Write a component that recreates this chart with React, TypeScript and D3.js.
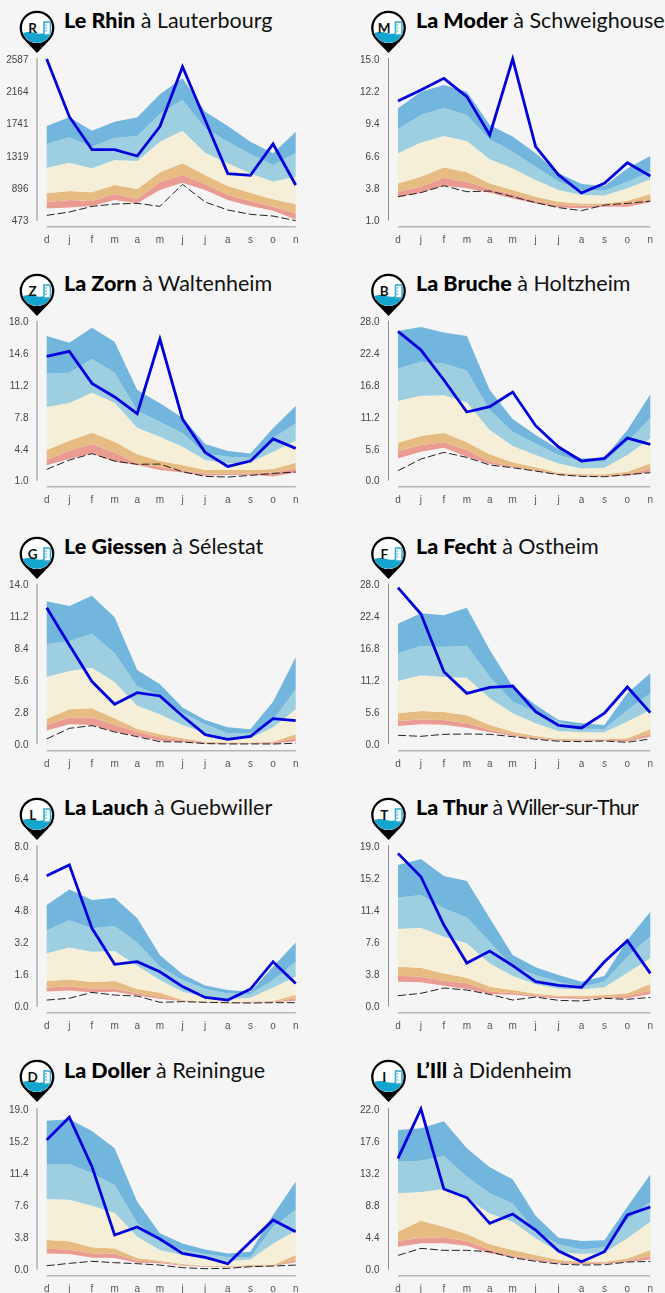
import React from "react";
import * as d3 from "d3";

const months = ["d", "j", "f", "m", "a", "m", "j", "j", "a", "s", "o", "n"];

// Le Rhin
const rhinTicks = ["473", "896", "1319", "1741", "2164", "2587"];
const rhinTop = [1711, 1825, 1650, 1768, 1825, 2125, 2335, 1899, 1711, 1506, 1354, 1637];
const rhinHigh = [1476, 1563, 1441, 1554, 1580, 1868, 2051, 1681, 1506, 1345, 1201, 1362];
const rhinMid = [1166, 1232, 1158, 1267, 1253, 1506, 1650, 1362, 1223, 1092, 987, 1049];
const rhinLow = [831, 861, 844, 940, 887, 1105, 1223, 1070, 926, 839, 752, 687];
const rhinDry = [717, 743, 730, 822, 756, 979, 1070, 953, 809, 730, 656, 569];
const rhinMin = [634, 647, 665, 743, 700, 874, 970, 874, 743, 665, 604, 490];
const rhinYear = [2587, 1833, 1402, 1402, 1319, 1703, 2487, 1790, 1088, 1066, 1476, 940];
const rhinRecord = [543, 586, 660, 691, 700, 660, 948, 717, 613, 556, 534, 473];

// La Moder
const moderTicks = ["1.0", "3.8", "6.6", "9.4", "12.2", "15.0"];
const moderTop = [10.73, 12.17, 12.75, 12.17, 9.29, 8.28, 6.83, 5.1, 4.18, 4.0, 5.53, 6.6];
const moderHigh = [8.91, 10.15, 10.73, 10.15, 8.04, 6.98, 5.68, 4.38, 3.66, 3.6, 4.38, 5.24];
const moderMid = [6.83, 7.76, 8.33, 7.9, 6.31, 5.53, 4.52, 3.66, 3.22, 3.19, 3.8, 4.58];
const moderLow = [4.23, 4.81, 5.62, 5.19, 4.23, 3.66, 3.08, 2.65, 2.5, 2.5, 2.73, 3.31];
const moderDry = [3.51, 3.94, 4.72, 4.38, 3.74, 3.28, 2.73, 2.36, 2.3, 2.36, 2.5, 2.79];
const moderMin = [3.02, 3.43, 4.03, 3.8, 3.43, 2.93, 2.5, 2.15, 2.07, 2.21, 2.21, 2.59];
const moderYear = [11.36, 12.32, 13.33, 11.74, 8.42, 15, 7.41, 4.96, 3.4, 4.23, 6.02, 4.87];
const moderRecord = [3.08, 3.43, 4.03, 3.51, 3.57, 3.08, 2.56, 2.13, 1.87, 2.36, 2.5, 2.7];

// La Zorn
const zornTicks = ["1.0", "4.4", "7.8", "11.2", "14.6", "18.0"];
const zornTop = [16.47, 15.75, 17.36, 15.86, 10.69, 9.27, 7.74, 4.92, 4.17, 3.92, 6.6, 8.98];
const zornHigh = [12.44, 12.55, 14.01, 12.55, 8.48, 7.31, 6.06, 3.92, 3.57, 3.46, 5.53, 7.13];
const zornMid = [8.88, 9.3, 10.41, 9.34, 6.67, 5.7, 4.64, 3.21, 2.85, 2.96, 4.1, 5.28];
const zornLow = [4.28, 5.28, 6.13, 5.17, 3.82, 3.1, 2.68, 2.14, 2.14, 2.14, 2.25, 2.92];
const zornDry = [3.21, 4.24, 4.92, 3.99, 2.85, 2.5, 2.07, 1.78, 1.78, 1.78, 1.89, 2.32];
const zornMin = [2.64, 3.32, 3.92, 3.03, 2.68, 2.14, 1.89, 1.53, 1.61, 1.61, 1.46, 1.89];
const zornYear = [14.29, 14.83, 11.41, 9.95, 8.16, 16.15, 7.59, 4.03, 2.53, 3.1, 5.46, 4.46];
const zornRecord = [2.21, 3.21, 3.89, 3.1, 2.75, 2.78, 1.96, 1.46, 1.39, 1.57, 1.78, 1.93];

// La Bruche
const brucheTicks = ["0.0", "5.6", "11.2", "16.8", "22.4", "28.0"];
const brucheTop = [26.36, 27.06, 26.12, 25.48, 15.97, 10.86, 8.04, 5.52, 3.93, 4.05, 8.92, 15.2];
const brucheHigh = [19.78, 20.96, 20.66, 19.37, 12.44, 8.63, 6.57, 4.52, 3.35, 3.35, 6.87, 10.98];
const brucheMid = [14.03, 14.97, 15.03, 13.79, 8.92, 6.1, 4.52, 3.05, 2.17, 2.29, 4.52, 7.45];
const brucheLow = [6.69, 7.87, 8.45, 6.75, 4.64, 3.23, 2.35, 1.41, 1.12, 1.12, 1.58, 3.05];
const brucheDry = [5.22, 6.28, 6.75, 5.4, 3.35, 2.58, 1.88, 1.23, 0.88, 0.88, 1.12, 2.17];
const brucheMin = [3.93, 5.11, 5.81, 4.23, 2.94, 2.35, 1.7, 1.0, 0.76, 0.7, 0.88, 1.47];
const brucheYear = [26.3, 23.01, 17.73, 12.09, 13.03, 15.61, 9.69, 5.93, 3.46, 3.93, 7.51, 6.4];
const brucheRecord = [1.76, 3.82, 4.99, 4.11, 2.76, 2.29, 1.7, 1.06, 0.76, 0.7, 1.06, 1.41];

// Le Giessen
const giessenTicks = ["0.0", "2.8", "5.6", "8.4", "11.2", "14.0"];
const giessenTop = [12.54, 12.13, 13.04, 11.14, 6.52, 5.26, 3.22, 2.13, 1.49, 1.32, 3.74, 7.63];
const giessenHigh = [8.77, 9.06, 9.7, 7.98, 5.06, 4.27, 2.72, 1.75, 0.96, 0.96, 2.13, 4.82];
const giessenMid = [5.9, 6.43, 6.72, 5.47, 3.39, 2.63, 1.7, 1.02, 0.53, 0.53, 1.49, 3.07];
const giessenLow = [2.25, 3.07, 3.16, 2.28, 1.34, 0.88, 0.53, 0.23, 0.15, 0.15, 0.23, 0.88];
const giessenDry = [1.7, 2.34, 2.34, 1.7, 1.11, 0.61, 0.38, 0.15, 0.09, 0.09, 0.18, 0.53];
const giessenMin = [1.2, 1.75, 1.7, 1.11, 0.73, 0.32, 0.23, 0.06, 0.03, 0.03, 0.06, 0.26];
const giessenYear = [11.98, 8.71, 5.5, 3.51, 4.53, 4.24, 2.48, 0.85, 0.44, 0.7, 2.25, 2.08];
const giessenRecord = [0.47, 1.4, 1.64, 1.08, 0.67, 0.23, 0.2, 0.06, 0.03, 0.03, 0.03, 0.09];

// La Fecht
const fechtTicks = ["0.0", "5.6", "11.2", "16.8", "22.4", "28.0"];
const fechtTop = [21.16, 22.97, 22.62, 23.97, 16.54, 10.11, 6.9, 4.27, 3.68, 3.39, 8.94, 12.45];
const fechtHigh = [15.96, 17.25, 17.07, 17.3, 11.87, 7.48, 5.73, 3.98, 2.75, 2.69, 6.02, 8.94];
const fechtMid = [11.11, 12.1, 11.81, 11.69, 8.07, 5.44, 3.68, 2.34, 2.1, 2.1, 3.98, 6.02];
const fechtLow = [5.44, 5.85, 5.67, 5.09, 3.39, 2.22, 1.46, 0.94, 0.88, 0.88, 1.05, 2.63];
const fechtDry = [4.09, 4.33, 4.27, 3.68, 2.51, 1.7, 1.17, 0.76, 0.7, 0.76, 0.76, 1.81];
const fechtMin = [3.22, 3.51, 3.45, 2.92, 2.1, 1.46, 0.99, 0.64, 0.58, 0.64, 0.47, 1.34];
const fechtYear = [27.48, 22.86, 12.74, 8.94, 10.0, 10.23, 5.73, 3.33, 2.86, 5.44, 10.06, 5.55];
const fechtRecord = [1.58, 1.4, 1.75, 1.81, 1.75, 1.34, 0.88, 0.53, 0.47, 0.58, 0.35, 0.94];

// La Lauch
const lauchTicks = ["0.0", "1.6", "3.2", "4.8", "6.4", "8.0"];
const lauchTop = [5.06, 5.84, 5.31, 5.43, 4.4, 2.57, 1.61, 1.05, 0.83, 0.75, 1.99, 3.19];
const lauchHigh = [3.8, 4.3, 3.9, 4.02, 3.19, 1.99, 1.33, 0.88, 0.66, 0.63, 1.33, 2.24];
const lauchMid = [2.66, 2.95, 2.74, 2.77, 2.04, 1.33, 0.75, 0.5, 0.38, 0.45, 0.95, 1.49];
const lauchLow = [1.28, 1.36, 1.23, 1.28, 0.88, 0.7, 0.33, 0.25, 0.22, 0.25, 0.28, 0.6];
const lauchDry = [0.95, 1.0, 0.9, 0.91, 0.66, 0.5, 0.3, 0.22, 0.2, 0.22, 0.25, 0.42];
const lauchMin = [0.76, 0.81, 0.71, 0.75, 0.56, 0.4, 0.27, 0.2, 0.17, 0.18, 0.22, 0.3];
const lauchYear = [6.52, 7.06, 3.9, 2.11, 2.24, 1.74, 1.0, 0.46, 0.33, 0.88, 2.24, 1.16];
const lauchRecord = [0.33, 0.42, 0.71, 0.58, 0.53, 0.22, 0.25, 0.22, 0.2, 0.18, 0.2, 0.2];

// La Thur
const thurTicks = ["0.0", "3.8", "7.6", "11.4", "15.2", "19.0"];
const thurTop = [16.75, 17.46, 15.45, 14.86, 10.45, 6.11, 4.65, 3.74, 2.96, 3.63, 7.88, 11.23];
const thurHigh = [12.89, 13.21, 11.63, 10.56, 7.69, 4.73, 3.74, 2.96, 2.37, 2.96, 5.91, 8.28];
const thurMid = [9.18, 9.34, 8.28, 7.49, 5.12, 3.63, 2.64, 2.13, 2.05, 2.29, 4.02, 5.72];
const thurLow = [4.73, 4.61, 3.94, 3.43, 2.37, 1.97, 1.54, 1.3, 1.26, 1.38, 1.58, 2.68];
const thurDry = [3.67, 3.55, 3.04, 2.76, 1.81, 1.58, 1.34, 1.18, 1.1, 1.18, 1.26, 1.89];
const thurMin = [2.96, 2.88, 2.48, 2.09, 1.5, 1.42, 1.18, 0.99, 0.91, 1.02, 0.99, 1.5];
const thurYear = [18.13, 15.37, 9.66, 5.16, 6.58, 4.85, 2.96, 2.52, 2.29, 5.32, 7.81, 3.94];
const thurRecord = [1.3, 1.58, 2.21, 1.97, 1.46, 0.79, 1.14, 0.75, 0.67, 0.99, 0.87, 1.1];

// La Doller
const dollerTicks = ["0.0", "3.8", "7.6", "11.4", "15.2", "19.0"];
const dollerTop = [17.62, 17.78, 16.4, 14.35, 8.04, 4.3, 3.11, 2.4, 1.93, 2.13, 6.46, 10.41];
const dollerHigh = [12.5, 12.5, 11.39, 10.01, 5.48, 3.31, 2.33, 1.85, 1.46, 1.46, 5.09, 7.06];
const dollerMid = [8.36, 8.28, 7.57, 6.74, 3.9, 2.33, 1.73, 1.26, 1.02, 1.22, 3.11, 4.57];
const dollerLow = [3.51, 3.35, 2.64, 2.52, 1.38, 1.06, 0.67, 0.47, 0.43, 0.55, 0.55, 1.73];
const dollerDry = [2.48, 2.4, 1.93, 1.89, 1.06, 0.91, 0.55, 0.43, 0.35, 0.43, 0.47, 1.14];
const dollerMin = [1.93, 1.85, 1.42, 1.38, 0.83, 0.75, 0.47, 0.35, 0.28, 0.35, 0.43, 0.87];
const dollerYear = [15.33, 18.02, 12.18, 4.1, 5.05, 3.63, 1.93, 1.46, 0.71, 3.31, 5.87, 4.49];
const dollerRecord = [0.47, 0.75, 0.99, 0.83, 0.71, 0.55, 0.24, 0.12, 0.16, 0.35, 0.43, 0.55];

// L'Ill
const illTicks = ["0.0", "4.4", "8.8", "13.2", "17.6", "22.0"];
const illTop = [19.12, 19.35, 20.31, 16.61, 14.01, 12.37, 7.39, 4.38, 3.93, 4.02, 8.63, 13.05];
const illHigh = [14.79, 14.92, 15.61, 12.73, 10.45, 9.08, 5.2, 3.47, 2.78, 3.06, 6.8, 9.31];
const illMid = [10.45, 10.63, 11.04, 9.77, 7.71, 6.57, 4.29, 2.46, 2.15, 2.33, 4.29, 6.57];
const illLow = [5.2, 6.71, 5.89, 4.88, 3.47, 2.69, 2.01, 1.32, 1.1, 1.1, 1.55, 2.69];
const illDry = [3.93, 4.38, 4.43, 3.93, 2.69, 1.92, 1.46, 1.05, 0.87, 0.96, 1.23, 1.87];
const illMin = [3.15, 3.61, 3.61, 3.29, 2.24, 1.69, 1.23, 0.87, 0.73, 0.82, 1.05, 1.41];
const illYear = [15.24, 22, 11.04, 9.86, 6.34, 7.62, 5.43, 2.56, 1.1, 2.46, 7.49, 8.58];
const illRecord = [1.96, 2.92, 2.65, 2.65, 2.46, 1.64, 1.14, 0.78, 0.64, 0.68, 1.05, 1.14];

const stations = [
  { letter: "R", bold: "Le Rhin", place: "à Lauterbourg", ticks: rhinTicks, top: rhinTop, high: rhinHigh, mid: rhinMid, low: rhinLow, dry: rhinDry, min: rhinMin, year: rhinYear, record: rhinRecord },
  { letter: "M", bold: "La Moder", place: "à Schweighouse", ticks: moderTicks, top: moderTop, high: moderHigh, mid: moderMid, low: moderLow, dry: moderDry, min: moderMin, year: moderYear, record: moderRecord },
  { letter: "Z", bold: "La Zorn", place: "à Waltenheim", ticks: zornTicks, top: zornTop, high: zornHigh, mid: zornMid, low: zornLow, dry: zornDry, min: zornMin, year: zornYear, record: zornRecord },
  { letter: "B", bold: "La Bruche", place: "à Holtzheim", ticks: brucheTicks, top: brucheTop, high: brucheHigh, mid: brucheMid, low: brucheLow, dry: brucheDry, min: brucheMin, year: brucheYear, record: brucheRecord },
  { letter: "G", bold: "Le Giessen", place: "à Sélestat", ticks: giessenTicks, top: giessenTop, high: giessenHigh, mid: giessenMid, low: giessenLow, dry: giessenDry, min: giessenMin, year: giessenYear, record: giessenRecord },
  { letter: "F", bold: "La Fecht", place: "à Ostheim", ticks: fechtTicks, top: fechtTop, high: fechtHigh, mid: fechtMid, low: fechtLow, dry: fechtDry, min: fechtMin, year: fechtYear, record: fechtRecord },
  { letter: "L", bold: "La Lauch", place: "à Guebwiller", ticks: lauchTicks, top: lauchTop, high: lauchHigh, mid: lauchMid, low: lauchLow, dry: lauchDry, min: lauchMin, year: lauchYear, record: lauchRecord },
  { letter: "T", bold: "La Thur", place: "à Willer-sur-Thur", ticks: thurTicks, top: thurTop, high: thurHigh, mid: thurMid, low: thurLow, dry: thurDry, min: thurMin, year: thurYear, record: thurRecord },
  { letter: "D", bold: "La Doller", place: "à Reiningue", ticks: dollerTicks, top: dollerTop, high: dollerHigh, mid: dollerMid, low: dollerLow, dry: dollerDry, min: dollerMin, year: dollerYear, record: dollerRecord },
  { letter: "I", bold: "L’Ill", place: "à Didenheim", ticks: illTicks, top: illTop, high: illHigh, mid: illMid, low: illLow, dry: illDry, min: illMin, year: illYear, record: illRecord },
];

const rows = [
  { plotTop: 59, plotBottom: 220.7, base: 226.7, xLabel: 242.5, title: 27.5, pin: 28 },
  { plotTop: 321.7, plotBottom: 480.7, base: 486.7, xLabel: 503, title: 291, pin: 291 },
  { plotTop: 584.7, plotBottom: 744.3, base: 750.7, xLabel: 767, title: 554, pin: 554 },
  { plotTop: 846, plotBottom: 1006.7, base: 1012.7, xLabel: 1029, title: 815, pin: 815 },
  { plotTop: 1109, plotBottom: 1269.7, base: 1275.7, xLabel: 1292, title: 1078, pin: 1077 },
];
const cols = [
  { x0: 46.7, x1: 295.7, axisX: 37, labelRight: 28.5, titleX: 64, pinX: 37, axisW: 1.6, axisC: "#b5b5b5" },
  { x0: 398, x1: 650.3, axisX: 388.5, labelRight: 379.5, titleX: 416, pinX: 388.5, axisW: 1, axisC: "#8f8f8f" },
];

const bandColors = ["#ea9c92", "#e6bc83", "#f6efd7", "#9dcfe0", "#72b6dd"];
const axisFont = "'Liberation Sans', Arial, sans-serif";
const titleFont = "Lato, sans-serif";

function Pin({ x, y, letter, id }: { x: number; y: number; letter: string; id: string }) {
  return (
    <g transform={`translate(${x},${y})`}>
      <path d="M-12,12.5 L0,25 L12,12.5 Z" fill="#000" />
      <circle r={16.2} fill="#fff" stroke="#000" strokeWidth={2.3} />
      <clipPath id={id}>
        <circle r={15} />
      </clipPath>
      <g clipPath={`url(#${id})`}>
        <path d="M-16,5.5 C-10,3.5 -6,3.5 -2,5 C2,6.5 6,6 16,3 L16,16 L-16,16 Z" fill="#14a5cf" />
        <rect x={7} y={-6} width={6.5} height={13} fill="#fff" stroke="#35aed3" strokeWidth={1.6} />
        <path d="M8,-3H10 M8,0H10 M8,3H10" stroke="#35aed3" strokeWidth={1} />
      </g>
      <text x={-4.3} y={4.6} textAnchor="middle" fontFamily={titleFont} fontWeight={700} fontSize={13.5} fill="#111">
        {letter}
      </text>
    </g>
  );
}

function Panel({ s, row, col, idx }: { s: (typeof stations)[number]; row: (typeof rows)[number]; col: (typeof cols)[number]; idx: number }) {
  const tickVals = s.ticks.map(Number);
  const x = d3.scalePoint<number>().domain(months.map((_, i) => i)).range([col.x0, col.x1]);
  const y = d3.scaleLinear().domain([tickVals[0], tickVals[tickVals.length - 1]]).range([row.plotBottom, row.plotTop]);
  const layers = [s.min, s.dry, s.low, s.mid, s.high, s.top];
  const line = d3.line<number>().x((_, i) => x(i)!).y((d) => y(d));
  const area = (lo: number[], hi: number[]) =>
    d3.area<number>().x((_, i) => x(i)!).y0((_, i) => y(lo[i])).y1((d) => y(d))(hi)!;
  const tight = s.bold === "La Thur";
  return (
    <g>
      <g filter="url(#soft)">
        <line x1={col.axisX} x2={col.axisX} y1={row.plotTop - 1} y2={row.plotBottom} stroke={col.axisC} strokeWidth={col.axisW} />
        <line x1={col.x0} x2={col.x1} y1={row.base} y2={row.base} stroke="#b5b5b5" strokeWidth={1.5} />
        {s.ticks.map((t, i) => (
          <text key={i} x={col.labelRight} y={y(tickVals[i]) + 3.6} textAnchor="end" fontFamily={axisFont} fontSize={10} fill="#444">
            {t}
          </text>
        ))}
        {months.map((m, i) => (
          <text key={i} x={x(i)} y={row.xLabel} textAnchor="middle" fontFamily={axisFont} fontSize={10} fill="#555">
            {m}
          </text>
        ))}
        {bandColors.map((c, i) => (
          <path key={i} d={area(layers[i], layers[i + 1])} fill={c} />
        ))}
        <path d={line(s.record)!} fill="none" stroke="#222" strokeWidth={1} strokeDasharray="8,3" />
        <path d={line(s.year)!} fill="none" stroke="#0000dc" strokeWidth={2.8} strokeLinejoin="miter" />
      </g>
      <Pin x={col.pinX} y={row.pin} letter={s.letter} id={`pin${idx}`} />
      <text x={col.titleX} y={row.title} fontFamily={titleFont} fontSize={21.5} fill="#111">
        <tspan fontWeight={900} fill="#000">{s.bold}</tspan>
        <tspan letterSpacing={tight ? -0.85 : 0}> {s.place}</tspan>
      </text>
    </g>
  );
}

export default function App() {
  return (
    <svg width={665} height={1293} style={{ position: "absolute", left: 0, top: 0, background: "#f5f5f5" }}>
      <defs>
        <filter id="soft" x="-5%" y="-5%" width="110%" height="110%">
          <feGaussianBlur stdDeviation={0.35} />
        </filter>
      </defs>
      {stations.map((s, i) => (
        <Panel key={i} s={s} idx={i} row={rows[Math.floor(i / 2)]} col={cols[i % 2]} />
      ))}
    </svg>
  );
}
